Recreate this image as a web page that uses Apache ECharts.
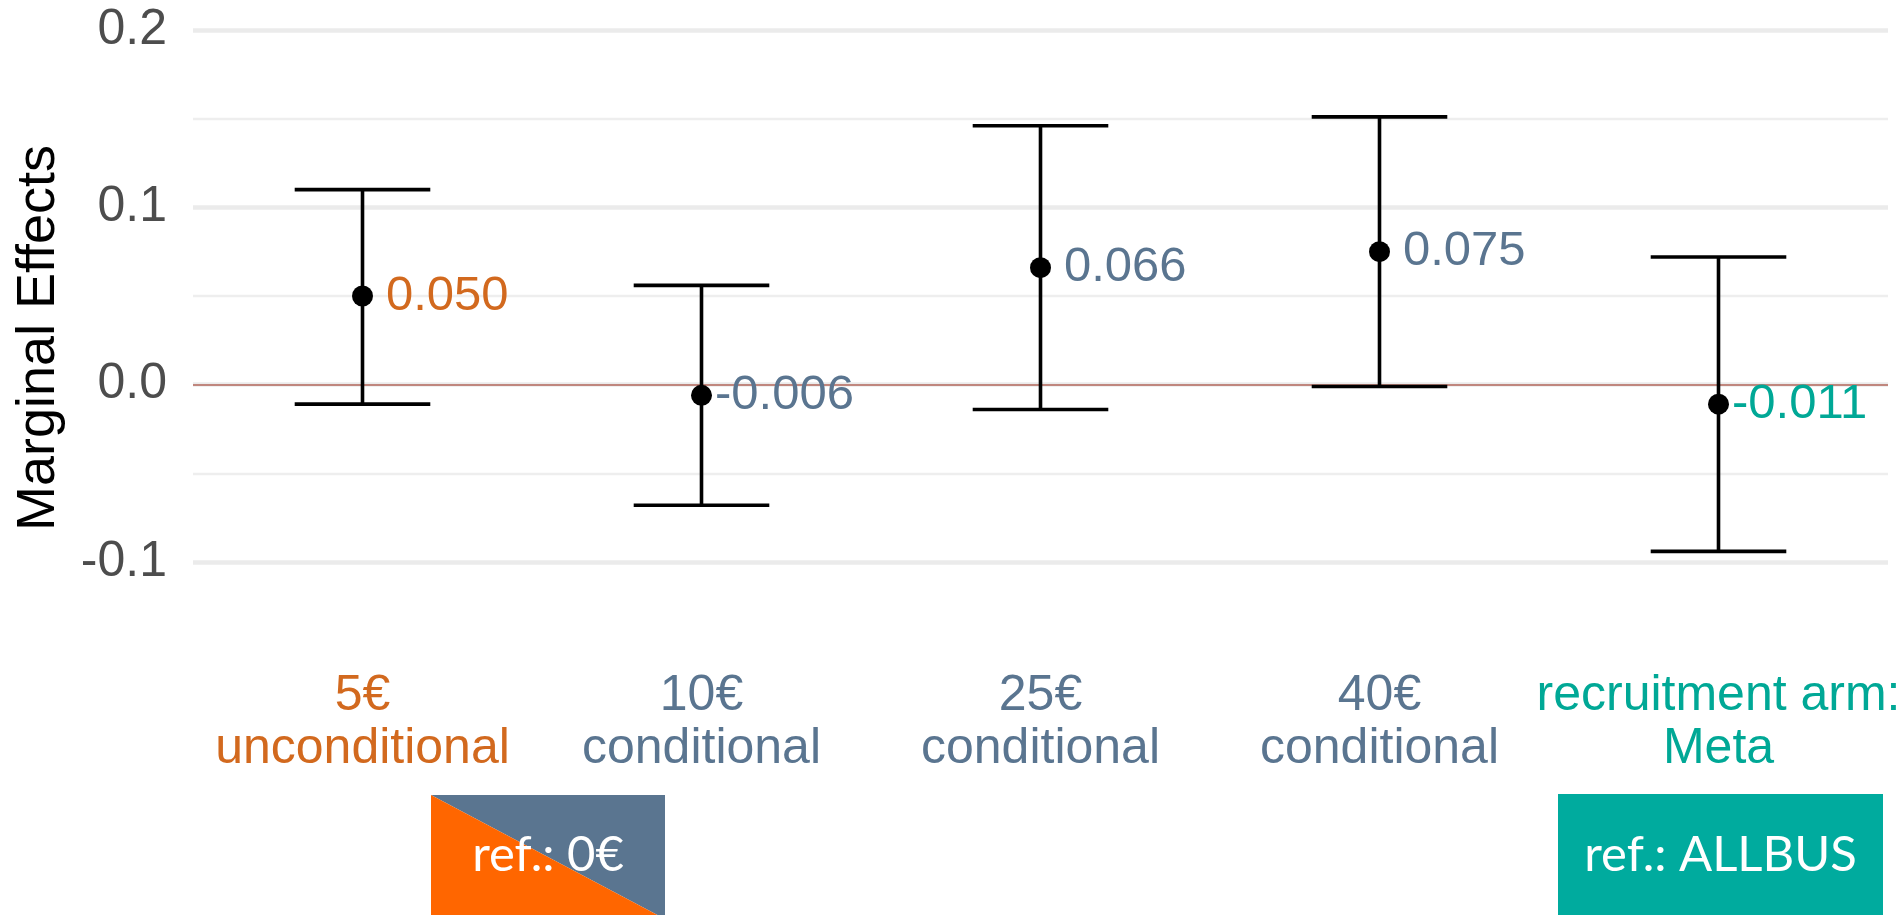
<!DOCTYPE html>
<html>
<head>
<meta charset="utf-8">
<script src="https://cdn.jsdelivr.net/npm/echarts@6/dist/echarts.min.js"></script>
<style>
  html, body { margin: 0; padding: 0; background: #ffffff; }
  #chart { width: 1903px; height: 915px; }
</style>
</head>
<body>
<div id="chart"></div>
<script>
// Treatment conditions (x axis) and their marginal effects with confidence bounds
const categories = ['5€\nunconditional', '10€\nconditional', '25€\nconditional', '40€\nconditional', 'recruitment arm:\nMeta'];
const estimates = [0.050, -0.006, 0.066, 0.075, -0.011];
const lowerBounds = [-0.011, -0.068, -0.014, -0.001, -0.094];
const upperBounds = [0.110, 0.056, 0.146, 0.151, 0.072];

// Reference-group badges shown below the axis
const refIncentive = 'ref.: 0€';
const refArm = 'ref.: ALLBUS';

const ORANGE_TEXT = '#D2691E';
const SLATE = '#5A7590';
const TEAL = '#00A896';
const categoryColors = [ORANGE_TEXT, SLATE, SLATE, SLATE, TEAL];

const FONT = '"Liberation Sans", Arial, Helvetica, sans-serif';
const BADGE_FONT = 'Lato, "Noto Sans", sans-serif';

const chart = echarts.init(document.getElementById('chart'), null, { renderer: 'canvas' });

const option = {
  animation: false,
  backgroundColor: '#ffffff',
  grid: {
    left: 193, right: 15, top: 30, bottom: 353,
    containLabel: false,
    outerBoundsMode: 'none'
  },
  xAxis: {
    type: 'category',
    data: categories.map((c, i) => ({ value: c, textStyle: { color: categoryColors[i] } })),
    boundaryGap: true,
    axisLine: { show: false },
    axisTick: { show: false },
    splitLine: { show: false },
    axisLabel: {
      interval: 0,
      fontFamily: FONT,
      fontSize: 50,
      lineHeight: 53,
      margin: 108,
      hideOverlap: false
    }
  },
  yAxis: {
    type: 'value',
    min: -0.1,
    max: 0.2,
    interval: 0.1,
    name: 'Marginal Effects',
    nameLocation: 'middle',
    nameRotate: 90,
    nameGap: 127,
    nameTextStyle: {
      fontFamily: FONT,
      fontSize: 54,
      color: '#000000',
      padding: [0, 84, 0, 0]
    },
    axisLine: { show: false },
    axisTick: { show: false },
    axisLabel: {
      fontFamily: FONT,
      fontSize: 50,
      color: '#4D4D4D',
      margin: 26,
      formatter: v => {
        const r = Math.round(v * 10) / 10;
        return (r === 0 ? 0 : r).toFixed(1);
      }
    },
    splitLine: { show: true, lineStyle: { color: '#EBEBEB', width: 4.5 } },
    minorTick: { show: false, splitNumber: 2 },
    minorSplitLine: { show: true, lineStyle: { color: '#EEEEEE', width: 2.3 } }
  },
  series: [
    {
      // confidence intervals drawn as capped error bars
      type: 'custom',
      z: 10,
      silent: true,
      encode: { x: 0, y: [1, 2] },
      data: categories.map((c, i) => [i, lowerBounds[i], upperBounds[i]]),
      renderItem: (params, api) => {
        const x = api.value(0);
        const lo = api.coord([x, api.value(1)]);
        const hi = api.coord([x, api.value(2)]);
        const half = api.size([1, 0])[0] * 0.2;
        const style = { stroke: '#000000', lineWidth: 3.6, fill: null };
        return {
          type: 'group',
          children: [
            { type: 'line', shape: { x1: lo[0], y1: lo[1], x2: hi[0], y2: hi[1] }, style },
            { type: 'line', shape: { x1: hi[0] - half, y1: hi[1], x2: hi[0] + half, y2: hi[1] }, style },
            { type: 'line', shape: { x1: lo[0] - half, y1: lo[1], x2: lo[0] + half, y2: lo[1] }, style }
          ]
        };
      }
    },
    {
      // point estimates with their value labels
      type: 'scatter',
      z: 11,
      symbol: 'circle',
      symbolSize: 21,
      itemStyle: { color: '#000000', opacity: 1 },
      data: estimates.map((v, i) => ({
        value: [i, v],
        label: { color: categoryColors[i], distance: v < 0 ? 3 : 13 }
      })),
      label: {
        show: true,
        position: 'right',
        fontFamily: FONT,
        fontSize: 49,
        opacity: 1,
        formatter: p => p.value[1].toFixed(3)
      },
      markLine: {
        silent: true,
        symbol: ['none', 'none'],
        z: 3,
        label: { show: false },
        lineStyle: { color: '#C0877E', width: 2, type: 'solid', opacity: 1 },
        data: [{ yAxis: 0 }]
      }
    }
  ],
  graphic: [
    {
      type: 'polygon',
      shape: { points: [[431, 795], [665, 795], [665, 919]] },
      style: { fill: SLATE }
    },
    {
      type: 'polygon',
      shape: { points: [[431, 795], [431, 919], [665, 919]] },
      style: { fill: '#FF6600' }
    },
    {
      type: 'text',
      x: 548, y: 855,
      style: {
        text: refIncentive, fill: '#ffffff',
        font: '49px ' + BADGE_FONT,
        align: 'center', verticalAlign: 'middle'
      }
    },
    {
      type: 'rect',
      shape: { x: 1558, y: 794, width: 325, height: 125 },
      style: { fill: '#00AB9E' }
    },
    {
      type: 'text',
      x: 1720.5, y: 855,
      style: {
        text: refArm, fill: '#ffffff',
        font: '49px ' + BADGE_FONT,
        align: 'center', verticalAlign: 'middle'
      }
    }
  ]
};

chart.setOption(option);
</script>
</body>
</html>
